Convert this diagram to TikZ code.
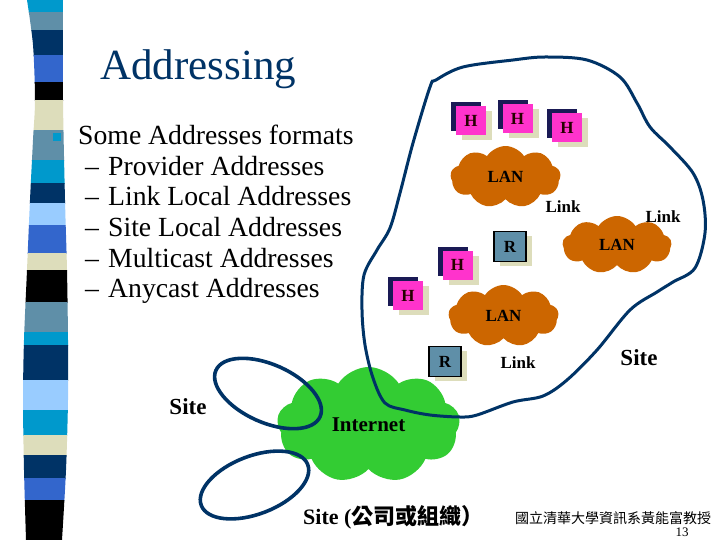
\documentclass[tikz,border=0pt]{standalone}
\usepackage{fontspec}
\setmainfont{Liberation Serif}
\newfontfamily\cjk{Noto Sans CJK TC}
\usetikzlibrary{shapes.symbols,shadows}
\pgfdeclarelayer{lines}
\pgfsetlayers{lines,main}
\definecolor{stcyan}{HTML}{0099CC}
\definecolor{stgray}{HTML}{5F8FA8}
\definecolor{stnavy}{HTML}{003366}
\definecolor{stroyal}{HTML}{3366CC}
\definecolor{stbeige}{HTML}{DDDDBB}
\definecolor{stlight}{HTML}{99CCFF}
\definecolor{hpink}{HTML}{FF33CC}
\definecolor{hnavy}{HTML}{1A1A55}
\definecolor{rblue}{HTML}{5F8FA8}
\definecolor{lanorange}{HTML}{CC6600}
\definecolor{netgreen}{HTML}{33CC33}
\definecolor{sitenavy}{HTML}{003366}
\definecolor{beigesh}{HTML}{DDDDBB}
\tikzset{
  lbl/.style={font=\bfseries\fontsize{17}{17}\selectfont},
  hbox/.style={fill=hpink, minimum width=30pt, minimum height=29pt, inner sep=0pt,
    text=black!85!red, font=\bfseries\fontsize{17}{17}\selectfont,
    general shadow={fill=beigesh, shadow xshift=6pt, shadow yshift=-5pt},
    general shadow={fill=hnavy, shadow xshift=-5pt, shadow yshift=4pt}},
  rbox/.style={fill=rblue, draw=black, line width=1.6pt, minimum width=32pt, minimum height=30pt,
    inner sep=0pt, font=\bfseries\fontsize{17}{17}\selectfont,
    general shadow={fill=beigesh, shadow xshift=6pt, shadow yshift=-4pt}},
  lan/.style={cloud, cloud puffs=9, cloud puff arc=115, cloud ignores aspect, fill=lanorange,
    minimum width=110pt, minimum height=62pt, inner sep=0pt, font=\bfseries\fontsize{17}{17}\selectfont},
  netcloud/.style={cloud, cloud puffs=9, cloud puff arc=115, cloud ignores aspect, fill=netgreen,
    minimum width=183pt, minimum height=116pt, inner sep=0pt, font=\bfseries\fontsize{21}{21}\selectfont},
  conn/.style={line width=1.5pt, black},
  siteline/.style={draw=sitenavy, line width=3pt},
  sitelbl/.style={font=\bfseries\fontsize{23}{23}\selectfont},
  bodytext/.style={anchor=base west, font=\fontsize{27.7}{30}\selectfont, inner sep=0pt}
}
\begin{document}
\begin{tikzpicture}[x=1pt,y=-1pt]
\useasboundingbox (0,0) rectangle (720,540);
\fill[white] (0,0) rectangle (720,540);
% left stripe
\begin{scope}
\clip plot[smooth] coordinates {(27,0) (33,45) (35,100) (33,140) (30,200) (27,270) (24,340) (23,400) (24,470) (26,540)}
  -- plot[smooth] coordinates {(62,540) (66,470) (68,400) (68,340) (67,270) (65,200) (63,100) (63,0)} -- cycle;
\foreach \a/\b/\c in {0/12/stcyan, 12/30/stgray, 30/55/stnavy, 55/82/stroyal, 82/100/black,
  100/130/stbeige, 130/160/stgray, 160/183/stcyan, 183/203/stnavy, 203/225/stlight,
  225/253/stroyal, 253/270/stbeige, 270/302/black, 302/332/stgray, 332/345/stcyan,
  345/380/stnavy, 380/410/stlight, 410/435/stcyan, 435/455/stbeige, 455/478/stnavy,
  478/500/stroyal, 500/540/black}
  \fill[\c] (0,\a) rectangle (90,\b+0.6);
\end{scope}
% title and bullets
\node[anchor=base west, inner sep=0pt, text=stnavy, font=\fontsize{43}{43}\selectfont] (title) at (100,80) {Addressing};
\node[fill=stcyan, minimum size=8pt, inner sep=0pt] (bul) at (57,137) {};
\node[bodytext] (l0) at (78,145) {Some Addresses formats};
\node[bodytext] (l1) at (85,175.5) {\makebox[23pt][l]{–}Provider Addresses};
\node[bodytext] (l2) at (85,206) {\makebox[23pt][l]{–}Link Local Addresses};
\node[bodytext] (l3) at (85,236.5) {\makebox[23pt][l]{–}Site Local Addresses};
\node[bodytext] (l4) at (85,267) {\makebox[23pt][l]{–}Multicast Addresses};
\node[bodytext] (l5) at (85,297.5) {\makebox[23pt][l]{–}Anycast Addresses};
% clouds
\node[lan] (lan1) at (505.5,177) {LAN};
\node[lan, minimum width=109pt, minimum height=58pt] (lan2) at (617,245) {LAN};
\node[lan] (lan3) at (503.5,316) {LAN};
\node[netcloud] (net) at (368.5,425) {Internet};
% boxes
\node[hbox] (h1) at (471,120.5) {H};
\node[hbox] (h2) at (517.5,119) {H};
\node[hbox] (h3) at (567,127.5) {H};
\node[hbox] (h4) at (457.5,265) {H};
\node[hbox] (h5) at (408,295.5) {H};
\node[rbox] (r1) at (510,246.5) {R};
\node[rbox] (r2) at (445,361.5) {R};
% connectors
\begin{pgfonlayer}{lines}
\draw[conn] (h1) -- (lan1);
\draw[conn] (h2) -- (lan1);
\draw[conn] (h3) -- (lan1);
\draw[conn] (lan1) -- (r1);
\draw[conn] (r1) -- (lan2);
\draw[conn] (r1) -- (lan3);
\draw[conn] (h4) -- (lan3);
\draw[conn] (h5) -- (lan3);
\draw[conn] (lan3) -- (r2);
\draw[conn] (r2) -- (net);
\end{pgfonlayer}
% labels
\node[lbl] (k1) at (563,207) {Link};
\node[lbl] (k2) at (663,217) {Link};
\node[lbl] (k3) at (518,363) {Link};
\node[sitelbl] (s1) at (639,358) {Site};
\node[sitelbl] (s2) at (188,407) {Site};
% site outlines
\draw[siteline] plot[smooth cycle, tension=0.55] coordinates {
  (430,87) (413,143) (400,193) (390,228) (377,250) (364,275) (362,310) (365,345) (373,378)
  (385,403) (405,410) (430,415) (460,417) (477,415) (513,402) (543,396) (567,380) (597,350)
  (630,310) (657,292) (673,282) (695,268) (705,233) (703,200) (693,173) (670,147) (650,127)
  (637,103) (620,77) (587,60) (545,57) (513,60) (463,67) (436,80)};
\draw[siteline, line width=3.6pt, rotate around={-24:(268,393.5)}] (268,393.5) ellipse (57 and 29);
\draw[siteline, line width=3.6pt, rotate around={21:(254.5,485)}] (254.5,485) ellipse (57 and 29);
% bottom texts
\node[anchor=base west, inner sep=0pt, font=\bfseries\fontsize{22}{22}\selectfont] (st) at (303,524) {Site ({\cjk\bfseries 公司或組織）}};
\node[anchor=base west, inner sep=0pt, font=\cjk\fontsize{14}{14}\selectfont] (ft) at (515,523) {國立清華大學資訊系黃能富教授};
\node[anchor=base, inner sep=0pt, font=\fontsize{13}{13}\selectfont] (pg) at (682,536) {13};
\end{tikzpicture}
\end{document}
